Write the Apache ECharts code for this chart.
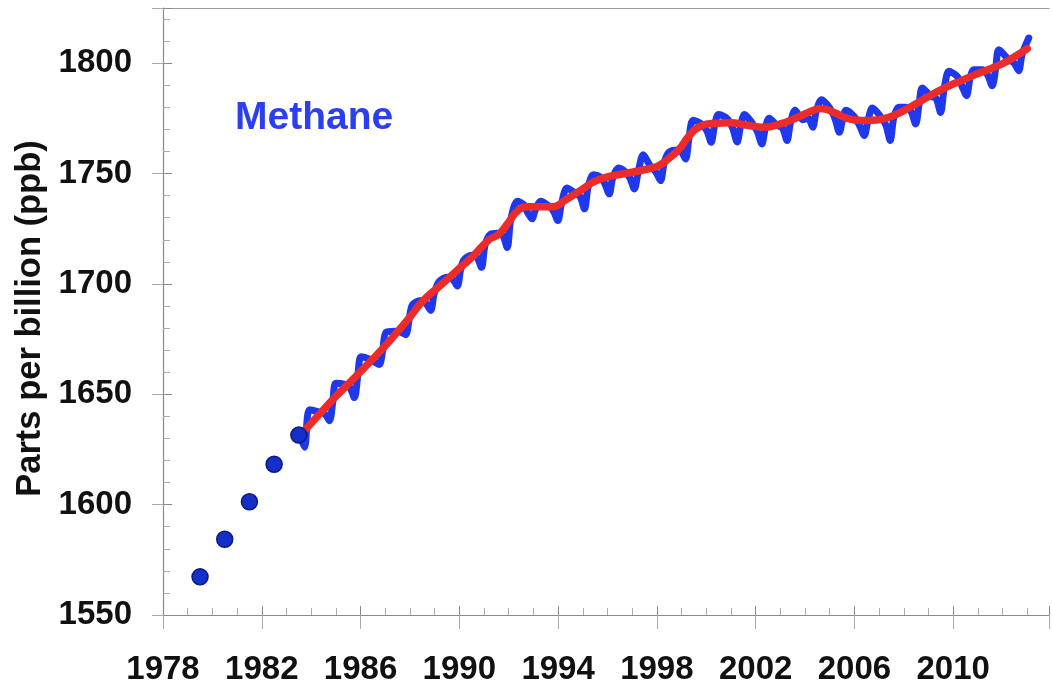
<!DOCTYPE html>
<html>
<head>
<meta charset="utf-8">
<script src="https://cdn.jsdelivr.net/npm/echarts@6/dist/echarts.min.js"></script>
<style>
html,body{margin:0;padding:0;background:#fff;}
#chart{width:1052px;height:687px;}
</style>
</head>
<body>
<div id="chart"></div>
<script>
// Early annual points (dots)
const earlyYears = [1979.5, 1980.5, 1981.5, 1982.5, 1983.5];
const earlyPpb   = [1567.3, 1584.3, 1601.3, 1618.3, 1631.5];

// Deseasonalised trend (red line)
const trendYears = [1983.72,1984.5,1985.0,1985.8,1986.5,1987.2,1988.0,1988.5,1989.2,1989.85,1990.5,1991.2,1991.6,1992.0,1992.4,1992.8,1993.3,1993.8,1994.3,1995.0,1995.4,1996.0,1996.7,1997.4,1998.06,1998.5,1998.9,1999.3,1999.7,2000.3,2001.0,2001.6,2002.3,2003.0,2003.7,2004.2,2004.65,2005.2,2005.7,2006.3,2006.9,2007.4,2008.0,2008.55,2009.1,2009.6,2010.3,2011.0,2012.0,2012.5,2013.0];
const trendPpb   = [1633.5,1643,1649,1658,1666,1674.5,1685,1692,1699,1705.5,1712,1720,1722.5,1728,1733.5,1735,1735,1735,1738,1743,1746,1748.5,1750,1751.5,1753.5,1757,1761,1767,1771,1772.7,1773,1772,1771,1772.5,1775.5,1778,1779.5,1777.5,1775,1774,1774.3,1775.5,1778.5,1782,1785.5,1788.5,1792,1795.3,1799.8,1803,1806.6];

// Monthly record (blue) read as key points of each seasonal cycle
const blueStart = [1983.52, 1632];
const blueEnd   = [2013.06, 1811.4];
const dipYears = [1983.73,1984.74,1985.75,1986.76,1987.83,1988.84,1989.92,1990.90,1991.94,1992.94,1993.99,1995.07,1996.07,1997.09,1998.15,1999.16,2000.20,2001.25,2002.25,2003.27,2004.31,2005.39,2006.40,2007.45,2008.48,2009.49,2010.54,2011.58,2012.65];
const dipPpb   = [1626,1638,1648.5,1663.5,1677,1688,1699,1707.5,1716.5,1729.5,1728.7,1734,1740.8,1743,1746.8,1756.6,1764.2,1764.3,1763.4,1765,1771,1768.7,1767.2,1765,1772.5,1777.7,1785.3,1789.8,1796.6];
const riseYears = [1984.88,1985.89,1986.90,1987.97,1988.98,1990.06,1991.04,1992.08,1993.08,1994.13,1995.21,1996.21,1997.23,1998.29,1999.30,2000.34,2001.39,2002.39,2003.41,2004.45,2005.53,2006.54,2007.59,2008.62,2009.63,2010.68,2011.72,2012.79];
const risePpb   = [1647,1658.5,1670,1684,1695.5,1707,1717.5,1729,1733.5,1736,1743.5,1748,1750,1754.5,1766,1772,1771.5,1770.5,1773,1778,1775,1773.5,1775,1781.5,1788,1793,1797.5,1804];
const peakYears = [1983.93,1985.00,1986.02,1987.03,1988.10,1989.18,1990.19,1991.26,1992.35,1993.30,1994.36,1995.43,1996.44,1997.45,1998.46,1999.47,2000.50,2001.55,2002.55,2003.60,2004.67,2005.66,2006.73,2007.80,2008.75,2009.83,2010.84,2011.85];
const peakPpb   = [1643,1655,1667,1678,1690.5,1701,1711,1722.5,1737.5,1737.5,1743.4,1749.5,1752.5,1758.5,1759.3,1774.2,1776.7,1776.7,1775.1,1778.7,1783.4,1778.7,1779.7,1780,1788.7,1796.3,1797,1806.1];
const shoulderYears = [1984.30,1985.35,1986.35,1987.40,1988.45,1989.50,1990.50,1991.55,1992.60,1993.60,1994.65,1995.70,1996.70,1997.70,1998.75,1999.80,2000.83,2001.85,2002.85,2003.90,2005.00,2005.98,2007.00,2008.08,2009.10,2010.15,2011.20,2012.25];
const shoulderPpb   = [1642,1654.5,1666,1678.5,1692.5,1703,1713,1723,1736,1735.5,1741.5,1748.5,1751,1754,1760.5,1772.5,1775.1,1773,1772,1774.4,1779.7,1775.9,1776.7,1780,1785,1794.2,1797,1801.6];
const predipYears = [1984.56,1985.57,1986.58,1987.65,1988.66,1989.74,1990.72,1991.76,1992.76,1993.81,1994.89,1995.89,1996.91,1997.97,1998.98,2000.02,2001.07,2002.07,2003.09,2004.13,2005.21,2006.22,2007.27,2008.30,2009.31,2010.36,2011.40,2012.47];
const predipPpb   = [1641,1653,1664.5,1678,1691,1702,1712,1722,1732.5,1733,1739.5,1745.5,1748,1750.5,1760,1769.5,1770.5,1769,1770.5,1775,1775,1771.5,1772,1778,1784,1789.5,1794.5,1800];

// Axis ticks
const xTickLabels = [1978,1982,1986,1990,1994,1998,2002,2006,2010];
const yTickLabels = [1550,1600,1650,1700,1750,1800];

function pairs(xs, ys){ return xs.map((x,i)=>[x, ys[i]]); }
const blueData = [blueStart]
  .concat(pairs(dipYears, dipPpb), pairs(riseYears, risePpb), pairs(peakYears, peakPpb),
          pairs(shoulderYears, shoulderPpb), pairs(predipYears, predipPpb), [blueEnd])
  .sort((a,b)=>a[0]-b[0]);
const trendData = pairs(trendYears, trendPpb);
const earlyData = pairs(earlyYears, earlyPpb);

const FONT = 'Liberation Sans, Arial, sans-serif';
const AX = '#8a8a8a';
const labelStyle = {fontFamily: FONT, fontWeight: 'bold', fontSize: 33, color: '#111'};

const chart = echarts.init(document.getElementById('chart'), null, {renderer: 'canvas'});
chart.setOption({
  animation: false,
  backgroundColor: '#ffffff',
  title: {
    text: 'Methane', left: 230, top: 94,
    textStyle: {fontFamily: FONT, fontWeight: 'bold', fontSize: 39, color: '#2b3ff0'}
  },
  grid: {left: 163, right: 0, top: 8, bottom: 72, containLabel: false},
  xAxis: [
    {
      type: 'value', position: 'bottom', min: 1978, max: 2013.88, interval: 4,
      axisLine: {show: true, lineStyle: {color: AX, width: 1.2}},
      axisTick: {show: true, inside: true, length: 9, lineStyle: {color: AX}},
      minorTick: {show: true, splitNumber: 4, length: 7, lineStyle: {color: '#aaa'}},
      splitLine: {show: false},
      axisLabel: Object.assign({margin: 38, formatter: v => xTickLabels.includes(Math.round(v)) && Math.abs(v - Math.round(v)) < 1e-6 ? String(Math.round(v)) : ''}, labelStyle)
    },
    {
      type: 'value', position: 'bottom', min: 1978, max: 2013.88, interval: 4,
      axisLine: {show: false},
      axisTick: {show: true, inside: false, length: 14, lineStyle: {color: '#aaa'}},
      axisLabel: {show: false}, splitLine: {show: false}
    },
    {
      type: 'value', position: 'top', min: 1978, max: 2013.88,
      axisLine: {show: true, lineStyle: {color: '#999', width: 1.2}},
      axisTick: {show: false}, axisLabel: {show: false}, splitLine: {show: false}
    }
  ],
  yAxis: [
    {
      type: 'value', position: 'left', min: 1550, max: 1825, interval: 50,
      axisLine: {show: true, lineStyle: {color: AX, width: 1.2}},
      axisTick: {show: true, inside: true, length: 9, lineStyle: {color: AX}},
      minorTick: {show: true, splitNumber: 5, length: 7, lineStyle: {color: '#aaa'}},
      splitLine: {show: false},
      axisLabel: Object.assign({margin: 31, formatter: v => yTickLabels.includes(v) ? String(v) : ''}, labelStyle),
      name: 'Parts per billion (ppb)', nameLocation: 'middle', nameGap: 111, nameRotate: 90,
      nameTextStyle: {fontFamily: FONT, fontWeight: 'bold', fontSize: 34.5, color: '#111', padding: [0, 14, 0, 0]}
    },
    {
      type: 'value', position: 'left', min: 1550, max: 1825, interval: 50,
      axisLine: {show: false},
      axisTick: {show: true, inside: false, length: 11, lineStyle: {color: '#aaa'}},
      axisLabel: {show: false}, splitLine: {show: false}
    }
  ],
  series: [
    {
      type: 'line', name: 'Monthly', xAxisIndex: 0, yAxisIndex: 0,
      data: blueData, showSymbol: false, smooth: 0.3, z: 2,
      lineStyle: {color: '#1f38ec', width: 7, cap: 'round', join: 'round'}
    },
    {
      type: 'line', name: 'Trend', xAxisIndex: 0, yAxisIndex: 0,
      data: trendData, showSymbol: false, smooth: 0.5, z: 3,
      lineStyle: {color: '#ec2b2b', width: 7.5, cap: 'round', join: 'round'}
    },
    {
      type: 'scatter', name: 'Early', xAxisIndex: 0, yAxisIndex: 0,
      data: earlyData, symbolSize: 16, z: 4,
      itemStyle: {color: '#1530c8', opacity: 1, borderColor: '#0a1a80', borderWidth: 1.5}
    }
  ]
});
</script>
</body>
</html>
